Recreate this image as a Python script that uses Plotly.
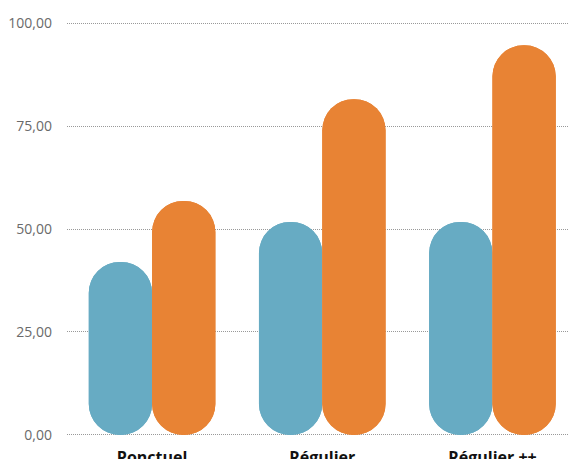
import plotly.graph_objects as go

categories = ["Ponctuel", "Régulier", "Régulier ++"]
series_blue = [42.0, 51.7, 51.7]
series_orange = [56.8, 81.5, 94.6]
y_ticks = [0, 25, 50, 75, 100]

BLUE = "#67ABC3"
ORANGE = "#E88334"
W = 0.372

fig = go.Figure()

def pill(values, color, offset):
    # upward bar rounded at top
    fig.add_trace(go.Bar(x=categories, y=values, base=[0] * len(values),
                         width=W, offset=offset, marker=dict(color=color, cornerradius="50%", line=dict(width=0)),
                         showlegend=False, hoverinfo="skip"))
    # downward bar from value to 0 rounded at bottom
    fig.add_trace(go.Bar(x=categories, y=[-v for v in values], base=values,
                         width=W, offset=offset, marker=dict(color=color, cornerradius="50%", line=dict(width=0)),
                         showlegend=False, hoverinfo="skip"))

pill(series_blue, BLUE, -W)
pill(series_orange, ORANGE, 0)

fig.update_layout(
    width=568, height=459,
    margin=dict(l=67, r=0, t=21, b=22, autoexpand=False),
    barmode="overlay",
    plot_bgcolor="white", paper_bgcolor="white",
    separators=", ",
    font=dict(family="Open Sans", color="#555555"),
    showlegend=False,
)
fig.update_xaxes(range=[-0.5, 2.444], showgrid=False, zeroline=False, showline=False, automargin=False,
                 ticks="", tickfont=dict(size=16, color="#111111", family="Open Sans", weight="bold"),
                 ticklabelstandoff=9)
fig.update_yaxes(range=[-0.5, 100.5], tickvals=y_ticks, tickformat=".2f", automargin=False,
                 showgrid=True, gridcolor="#999999", griddash="1px,1px", gridwidth=1,
                 zeroline=False, showline=False, ticks="",
                 tickfont=dict(size=14, color="#6a6a6a"), ticklabelstandoff=14)

fig.write_html("out.html", config={"displayModeBar": False},
               post_script="document.body.style.margin='0';document.body.style.overflow='hidden';")
